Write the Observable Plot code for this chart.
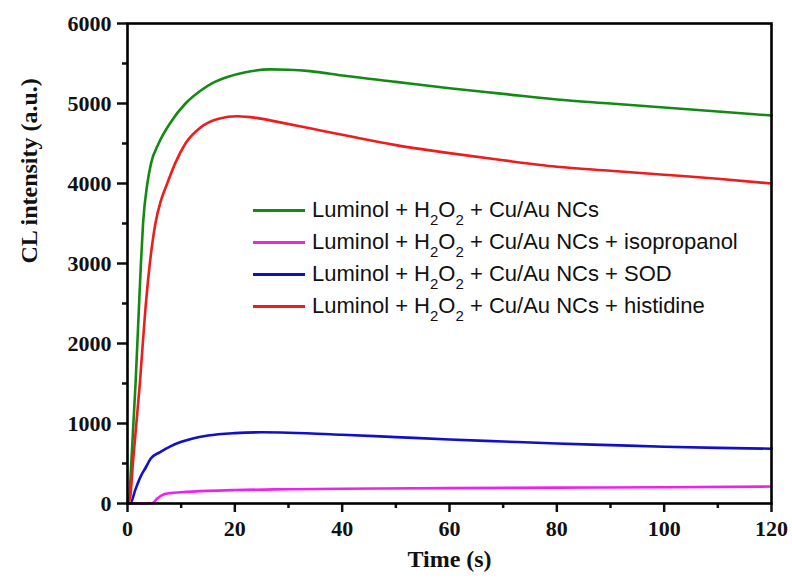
<!DOCTYPE html>
<html>
<head>
<meta charset="utf-8">
<script src="https://cdn.jsdelivr.net/npm/d3@7"></script>
<script src="https://cdn.jsdelivr.net/npm/@observablehq/plot@0.6"></script>
<style>
  html, body { margin: 0; padding: 0; background: #fff; }
  #wrap { position: relative; width: 792px; height: 583px; }
  #legend { position: absolute; left: 253px; top: 194px; font-family: "Liberation Sans", Arial, sans-serif; font-size: 22px; color: #111; }
  .row { display: flex; align-items: center; height: 32px; }
  .sw { width: 52px; height: 3px; margin-right: 7px; }
  sub { font-size: 15px; vertical-align: -8px; line-height: 0; }
</style>
</head>
<body>
<div id="wrap"><div id="legend"></div></div>
<script>
// Series labels and colours
const seriesNames = [
  "Luminol + H<sub>2</sub>O<sub>2</sub> + Cu/Au NCs",
  "Luminol + H<sub>2</sub>O<sub>2</sub> + Cu/Au NCs + isopropanol",
  "Luminol + H<sub>2</sub>O<sub>2</sub> + Cu/Au NCs + SOD",
  "Luminol + H<sub>2</sub>O<sub>2</sub> + Cu/Au NCs + histidine"
];
const seriesColors = ["#138a13", "#ee22ee", "#1010cc", "#ee1c1c"];

// Green: Luminol + H2O2 + Cu/Au NCs
const greenT = [0, 0.3, 0.7, 1.5, 2, 2.5, 2.9, 3.7, 4.4, 5.8, 8, 10.8, 13.6, 16, 18.6, 22, 26.6, 30, 34, 40, 50, 60, 70, 80, 90, 100, 110, 120];
const greenY = [0, 50, 500, 1500, 2250, 3000, 3500, 4000, 4255, 4500, 4760, 5000, 5160, 5260, 5330, 5390, 5426, 5422, 5405, 5350, 5270, 5190, 5120, 5050, 5000, 4950, 4900, 4850];

// Magenta: + isopropanol
const magentaT = [0, 2, 4.6, 5.5, 6.8, 8, 9.9, 15, 20, 30, 40, 60, 80, 100, 120];
const magentaY = [0, 0, 3, 60, 115, 130, 140, 158, 168, 178, 185, 192, 198, 204, 212];

// Blue: + SOD
const blueT = [0, 0.5, 1.5, 2.4, 3.4, 4.3, 6, 8, 9.9, 12, 15, 20, 25, 30, 40, 50, 60, 70, 80, 90, 100, 110, 120];
const blueY = [0, 0, 180, 330, 450, 560, 640, 715, 768, 810, 850, 880, 890, 885, 860, 830, 800, 775, 750, 730, 710, 695, 685];

// Red: + histidine
const redT = [0, 0.5, 1, 2.3, 3.3, 4, 5.2, 6.2, 7.4, 8.9, 10.8, 13.6, 17, 20.5, 24, 28, 34, 40, 50, 60, 70, 80, 90, 100, 110, 120];
const redY = [0, 80, 500, 1500, 2400, 2900, 3500, 3780, 4000, 4255, 4500, 4700, 4810, 4840, 4820, 4770, 4690, 4610, 4480, 4380, 4290, 4210, 4160, 4110, 4060, 4000];

// Ticks
const xMajor = [0, 20, 40, 60, 80, 100, 120];
const xMinor = [10, 30, 50, 70, 90, 110];
const yMajor = [0, 1000, 2000, 3000, 4000, 5000, 6000];
const yMinor = [500, 1500, 2500, 3500, 4500, 5500];

const xLabel = "Time (s)";
const yLabel = "CL intensity (a.u.)";

const toRows = (T, Y, k) => T.map((t, i) => ({t, v: Y[i], k}));
const data = [
  ...toRows(greenT, greenY, 0),
  ...toRows(magentaT, magentaY, 1),
  ...toRows(blueT, blueY, 2),
  ...toRows(redT, redY, 3)
];

const chart = Plot.plot({
  width: 792,
  height: 583,
  marginLeft: 127,
  marginRight: 21,
  marginTop: 23,
  marginBottom: 80,
  style: {fontFamily: "Liberation Serif, Times New Roman, serif", fontWeight: "bold", fontSize: "22px", color: "#111", background: "#fff"},
  x: {domain: [0, 120]},
  y: {domain: [0, 6000]},
  marks: [
    Plot.line(data, {x: "t", y: "v", z: "k", stroke: d => seriesColors[d.k], strokeWidth: 2.6, curve: "monotone-x"}),
    Plot.axisX({ticks: xMajor, tickSize: 9, tickPadding: 8, strokeWidth: 2.5, label: null, fontWeight: "bold", fontSize: 22, tickFormat: "d"}),
    Plot.axisX({ticks: xMinor, tickSize: 5, strokeWidth: 2.5, text: null, label: null}),
    Plot.axisY({ticks: yMajor, tickSize: 10, tickPadding: 6, strokeWidth: 2.5, label: null, fontWeight: "bold", fontSize: 22, tickFormat: "d"}),
    Plot.axisY({ticks: yMinor, tickSize: 5, strokeWidth: 2.5, text: null, label: null}),
    Plot.frame({stroke: "#000", strokeWidth: 2.6}),
    Plot.text([xLabel], {frameAnchor: "bottom", dy: 63, fontSize: 24, fontWeight: "bold"}),
    Plot.text([yLabel], {frameAnchor: "left", rotate: -90, dx: -98, fontSize: 24, fontWeight: "bold"})
  ]
});
document.getElementById("wrap").prepend(chart);

const legend = document.getElementById("legend");
seriesNames.forEach((name, i) => {
  const row = document.createElement("div");
  row.className = "row";
  row.innerHTML = `<div class="sw" style="background:${seriesColors[i]}"></div><span>${name}</span>`;
  legend.appendChild(row);
});
</script>
</body>
</html>
